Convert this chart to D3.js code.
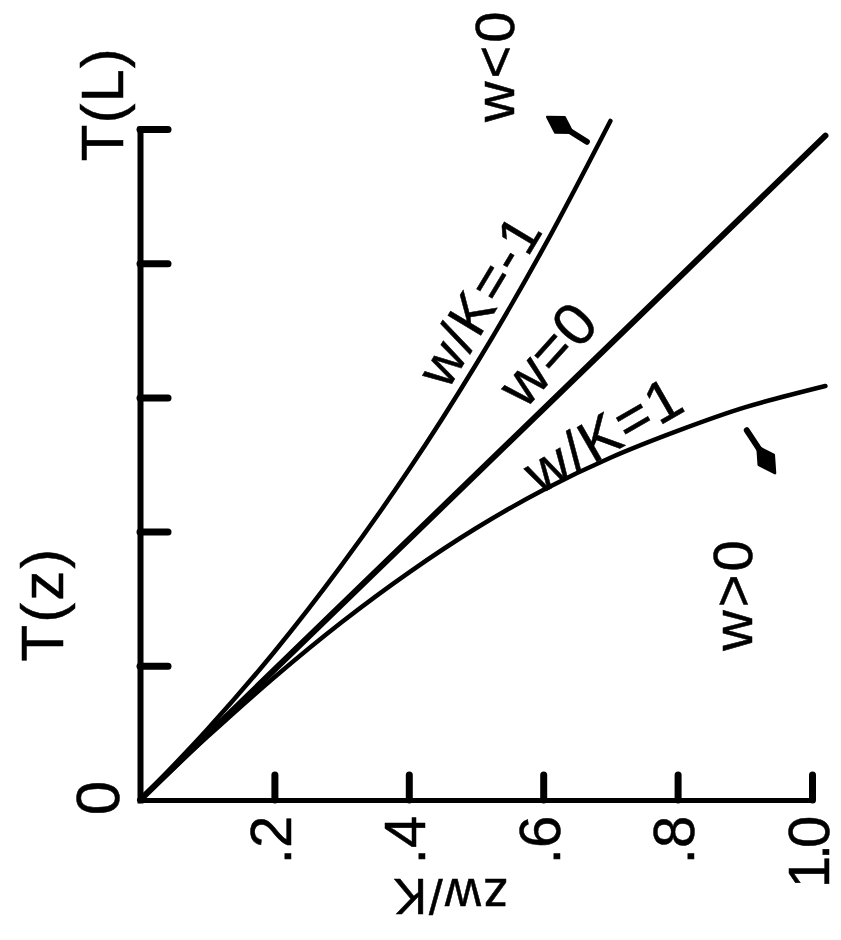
<!DOCTYPE html>
<html><head><meta charset="utf-8">
<script src="https://cdn.jsdelivr.net/npm/d3@7/dist/d3.min.js"></script>
<style>
body{margin:0;background:#fff}
svg{display:block}
text{font-family:"Liberation Sans",Arial,sans-serif;fill:#000;stroke:#000;stroke-width:0.5px}
</style>
</head><body>
<script>
// ---- data ----
const xTickValues = [0.2, 0.4, 0.6, 0.8, 1.0];
const xTickLabels = [".2", ".4", ".6", ".8", "1.0"];
const yTickValues = [0.2, 0.4, 0.6, 0.8, 1.0];
const xLabel = "zw/K";
const yLabel = "T(z)";
const yTopLabel = "T(L)";
const originLabel = "0";
// w/K = -1 (upper curve)
const curveNegX = [0, 0.1, 0.2, 0.3, 0.4, 0.5, 0.6, 0.7];
const curveNegY = [0, 0.105, 0.221, 0.350, 0.492, 0.649, 0.822, 1.012];
// w = 0 (straight line)
const curveZeroX = [0, 1.02];
const curveZeroY = [0, 0.99];
// w/K = 1 (lower curve)
const curvePosX = [0, 0.1, 0.2, 0.3, 0.4, 0.5, 0.6, 0.7, 0.8, 0.9, 1.02];
const curvePosY = [0, 0.094, 0.183, 0.265, 0.339, 0.405, 0.462, 0.510, 0.550, 0.585, 0.617];
const curveLabels = ["w/K=-1", "w=0", "w/K=1"];
const regionLabels = ["w<0", "w>0"];

// ---- layout ----
const W = 841, H = 940;
const svg = d3.select("body").append("svg").attr("width", W).attr("height", H);
svg.append("rect").attr("width", W).attr("height", H).attr("fill", "#fff");

const x = d3.scaleLinear().domain([0, 1]).range([140, 812]);
const y = d3.scaleLinear().domain([0, 1]).range([800, 129]);

// axes
const gx = svg.append("g").attr("transform", `translate(0,${y(0)})`)
  .call(d3.axisTop(x).tickValues(xTickValues).tickSize(25).tickSizeOuter(0).tickFormat(""));
const gy = svg.append("g").attr("transform", `translate(${x(0)},0)`)
  .call(d3.axisRight(y).tickValues(yTickValues).tickSize(28).tickSizeOuter(0).tickFormat(""));
gx.select(".domain").attr("stroke", "#000").attr("stroke-width", 5).attr("stroke-linecap", "square");
gy.select(".domain").attr("stroke", "#000").attr("stroke-width", 6).attr("stroke-linecap", "square");
svg.selectAll(".tick line").attr("stroke", "#000").attr("stroke-width", 7).attr("stroke-linecap", "round");
svg.selectAll(".tick text").remove();

// curves
const line = d3.line().x(d => x(d[0])).y(d => y(d[1])).curve(d3.curveCatmullRom);
const zip = (a, b) => a.map((v, i) => [v, b[i]]);
svg.append("path").datum(zip(curveNegX, curveNegY)).attr("d", line)
  .attr("fill", "none").attr("stroke", "#000").attr("stroke-width", 4.5).attr("stroke-linecap", "round");
svg.append("path").datum(zip(curveZeroX, curveZeroY)).attr("d", line)
  .attr("fill", "none").attr("stroke", "#000").attr("stroke-width", 6).attr("stroke-linecap", "round");
svg.append("path").datum(zip(curvePosX, curvePosY)).attr("d", line)
  .attr("fill", "none").attr("stroke", "#000").attr("stroke-width", 4.5).attr("stroke-linecap", "round");

// text helper
function label(txt, cx, cy, angle, fs, ls) {
  return svg.append("text")
    .attr("transform", `translate(${cx},${cy}) rotate(${angle})`)
    .attr("text-anchor", "middle")
    .attr("dominant-baseline", "central")
    .attr("font-size", fs)
    .attr("letter-spacing", ls || 0)
    .text(txt);
}

// tick labels (rotated)
xTickValues.forEach((v, i) => {
  const isLast = i === xTickLabels.length - 1;
  label(xTickLabels[i], x(v) - 4, y(0) + (isLast ? 54 : 40), -90, 58, isLast ? -4 : 0);
});
label(originLabel, x(0) - 43, y(0) - 2, -90, 62);
label(xLabel, x(0.461), y(0) + 96, 180, 50, 2);
label(yLabel, x(0) - 98, y(0.292), -90, 60, 2);
label(yTopLabel, x(0) - 38, y(1.037), -90, 60, 1);
label(regionLabels[0], x(0.528), y(1.095), -90, 56, 3);
label(regionLabels[1], x(0.882), y(0.307), -90, 56, 3);

// curve labels
label(curveLabels[0], x(0.505), y(0.745), -59, 56, 2);
label(curveLabels[1], x(0.607), y(0.665), -48, 60, 1);
label(curveLabels[2], x(0.690), y(0.545), -30, 58, 2);

// arrows
function arrow(from, to, L) {
  const p0 = [x(from[0]), y(from[1])], p1 = [x(to[0]), y(to[1])];
  const dx = p1[0] - p0[0], dy = p1[1] - p0[1], len = Math.hypot(dx, dy);
  const u = [dx / len, dy / len], n = [-u[1], u[0]];
  svg.append("line").attr("x1", p0[0]).attr("y1", p0[1]).attr("x2", p1[0] - u[0] * 12).attr("y2", p1[1] - u[1] * 12)
    .attr("stroke", "#000").attr("stroke-width", 6).attr("stroke-linecap", "round");
  const b = [p1[0] - u[0] * L * 0.5, p1[1] - u[1] * L * 0.5];
  const back = [p1[0] - u[0] * L, p1[1] - u[1] * L];
  const w = 9;
  svg.append("path")
    .attr("d", `M${p1[0]},${p1[1]}L${b[0] + n[0] * w},${b[1] + n[1] * w}L${back[0]},${back[1]}L${b[0] - n[0] * w},${b[1] - n[1] * w}Z`)
    .attr("fill", "#000").attr("stroke", "#000").attr("stroke-width", 2.5).attr("stroke-linejoin", "round");
}
arrow([0.665, 0.981], [0.606, 1.018], 30);
arrow([0.903, 0.551], [0.945, 0.487], 32);
</script>
</body></html>
